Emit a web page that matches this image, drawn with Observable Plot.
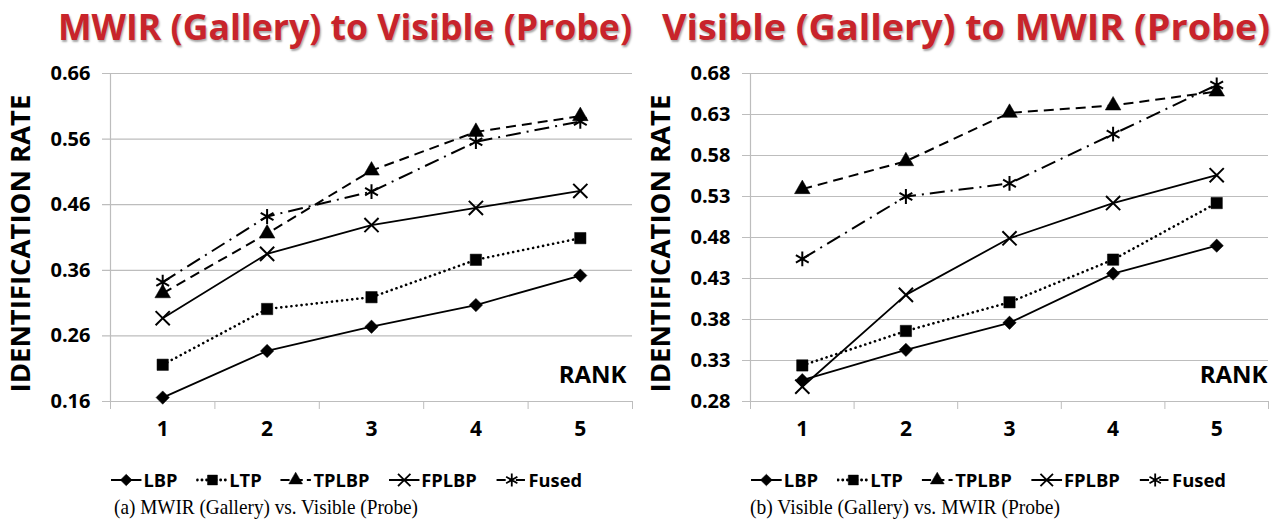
<!DOCTYPE html>
<html><head><meta charset="utf-8">
<script src="https://cdn.jsdelivr.net/npm/d3@7"></script>
<script src="https://cdn.jsdelivr.net/npm/@observablehq/plot@0.6"></script>
<style>
html,body{margin:0;padding:0;background:#fff;}
#root{position:relative;width:1278px;height:522px;overflow:hidden;font-family:"Open Sans",sans-serif;}
.title{position:absolute;top:9px;font-weight:700;font-size:35px;line-height:1;color:#c8242b;white-space:nowrap;text-shadow:1px 2px 2px rgba(0,0,0,0.35);transform-origin:center center;}
.chart{position:absolute;top:58px;}
.legend{position:absolute;top:469px;display:flex;align-items:center;gap:18px;font-weight:700;font-size:18px;line-height:22px;white-space:nowrap;transform-origin:left center;}
.legend .item{display:flex;align-items:center;gap:1px;}
.caption{position:absolute;top:496px;font-family:"Liberation Serif",serif;font-size:22px;line-height:22px;white-space:nowrap;transform-origin:left center;}
</style></head>
<body><div id="root"></div>
<script>
// ---- data ----
const ranks = [1, 2, 3, 4, 5];
const methods = ["LBP", "LTP", "TPLBP", "FPLBP", "Fused"];

// (a) MWIR (Gallery) to Visible (Probe)
const aLBP   = [0.166, 0.237, 0.274, 0.307, 0.352];
const aLTP   = [0.216, 0.301, 0.319, 0.376, 0.409];
const aTPLBP = [0.325, 0.416, 0.512, 0.571, 0.595];
const aFPLBP = [0.287, 0.385, 0.429, 0.455, 0.481];
const aFused = [0.342, 0.442, 0.480, 0.556, 0.587];
const aTicks = [0.16, 0.26, 0.36, 0.46, 0.56, 0.66];

// (b) Visible (Gallery) to MWIR (Probe)
const bLBP   = [0.306, 0.343, 0.376, 0.436, 0.470];
const bLTP   = [0.324, 0.366, 0.401, 0.453, 0.522];
const bTPLBP = [0.539, 0.573, 0.632, 0.641, 0.658];
const bFPLBP = [0.298, 0.410, 0.479, 0.522, 0.556];
const bFused = [0.454, 0.530, 0.546, 0.606, 0.666];
const bTicks = [0.28, 0.33, 0.38, 0.43, 0.48, 0.53, 0.58, 0.63, 0.68];

const titleA = "MWIR (Gallery) to Visible (Probe)";
const titleB = "Visible (Gallery) to MWIR (Probe)";
const captionA = "(a) MWIR (Gallery) vs. Visible (Probe)";
const captionB = "(b) Visible (Gallery) vs. MWIR (Probe)";
const yLabel = "IDENTIFICATION RATE";
const xLabel = "RANK";

// ---- styles ----
const dashOf = {LBP: null, LTP: "0.1,5", TPLBP: "10,6", FPLBP: null, Fused: "15,6,2,6"};
const widthOf = {LBP: 1.8, LTP: 2.6, TPLBP: 2, FPLBP: 1.8, Fused: 2};
const symOf = {LBP: "diamond2", LTP: "square", TPLBP: "triangle", FPLBP: "times", Fused: "asterisk"};
const rOf = {LBP: 6, LTP: 6.4, TPLBP: 5.8, FPLBP: 6.5, Fused: 7};
const d3Sym = {LBP: d3.symbolDiamond2, LTP: d3.symbolSquare, TPLBP: d3.symbolTriangle, FPLBP: d3.symbolTimes, Fused: d3.symbolAsterisk};
const grid = "#bdbdbd";

const root = document.getElementById("root");

function chart(series, yTicks, mLeft, mRight, rankDx) {
  const rows = methods.flatMap((m, j) => ranks.map((r, i) => ({method: m, rank: r, value: series[j][i]})));
  const bounds = [...ranks.map(r => r - 0.5), ranks[ranks.length - 1] + 0.5];
  const marks = [
    Plot.ruleY(yTicks, {y: d => d, stroke: grid, strokeWidth: 1.2, insetLeft: -8}),
    Plot.ruleX([bounds[0]], {x: d => d, stroke: grid, strokeWidth: 1.2}),
    Plot.axisX({ticks: bounds, tickSize: 8, tickFormat: () => "", stroke: grid, label: null}),
    Plot.text(yTicks, {y: d => d, frameAnchor: "left", textAnchor: "end", dx: -20, text: d => d.toFixed(2), fontSize: 20, fontWeight: "bold", fill: "black"}),
    Plot.text(ranks, {x: d => d, frameAnchor: "bottom", dy: 34, text: d => String(d), fontSize: 21, fontWeight: "bold", fill: "black"}),
    Plot.text([xLabel], {frameAnchor: "bottom-right", textAnchor: "end", dx: rankDx, dy: -18.5, fontSize: 24, fontWeight: "bold", fill: "black"}),
    Plot.text([yLabel], {frameAnchor: "left", textAnchor: "middle", rotate: -90, dx: -89, dy: 6, fontSize: 27.5, fontWeight: "bold", fill: "black"})
  ];
  for (const m of methods) {
    const data = rows.filter(d => d.method === m);
    marks.push(Plot.line(data, {x: "rank", y: "value", stroke: "black", strokeWidth: widthOf[m],
      strokeDasharray: dashOf[m], strokeLinecap: m === "LTP" ? "round" : "butt"}));
    const filled = m === "LBP" || m === "LTP" || m === "TPLBP";
    marks.push(Plot.dot(data, {x: "rank", y: "value", symbol: symOf[m], r: rOf[m],
      fill: filled ? "black" : "none", stroke: "black", strokeWidth: filled ? 0.5 : 2}));
  }
  return Plot.plot({
    width: 639, height: 393,
    marginTop: 15, marginBottom: 50, marginLeft: mLeft, marginRight: mRight,
    x: {domain: [bounds[0], bounds[bounds.length - 1]], axis: null, label: null},
    y: {domain: [yTicks[0], yTicks[yTicks.length - 1]], axis: null, label: null},
    style: {fontFamily: "'Open Sans', sans-serif", background: "white", overflow: "visible"},
    marks
  });
}

function addFitted(cls, text, left, target, center) {
  const el = document.createElement("div");
  el.className = cls;
  el.textContent = text;
  el.style.left = left + "px";
  root.appendChild(el);
  const w = el.getBoundingClientRect().width;
  const k = target / w;
  el.style.transform = center ? `translateX(-50%) scaleX(${k})` : `scaleX(${k})`;
  return el;
}

function legend(left, target) {
  const el = document.createElement("div");
  el.className = "legend";
  el.style.left = left + "px";
  for (const m of methods) {
    const item = document.createElement("span");
    item.className = "item";
    const svg = d3.create("svg").attr("width", 32).attr("height", 16);
    svg.append("line").attr("x1", 1).attr("x2", 31).attr("y1", 8).attr("y2", 8)
      .attr("stroke", "black").attr("stroke-width", m === "LTP" ? 2.8 : 2.2)
      .attr("stroke-dasharray", dashOf[m] ? (m === "LTP" ? "0.1,4.5" : m === "Fused" ? "9,4,2,4" : "9,4") : null)
      .attr("stroke-linecap", m === "LTP" ? "round" : "butt");
    const filled = m === "LBP" || m === "LTP" || m === "TPLBP";
    const size = Math.PI * rOf[m] * rOf[m] * 0.75;
    svg.append("path").attr("transform", "translate(16,8)")
      .attr("d", d3.symbol(d3Sym[m], size)())
      .attr("fill", filled ? "black" : "none").attr("stroke", "black").attr("stroke-width", filled ? 0.5 : 1.8);
    item.appendChild(svg.node());
    const t = document.createElement("span");
    t.textContent = m;
    item.appendChild(t);
    el.appendChild(item);
  }
  root.appendChild(el);
  const w = el.getBoundingClientRect().width;
  el.style.transform = `scaleX(${target / w})`;
}

// panel (a)
const cA = chart([aLBP, aLTP, aTPLBP, aFPLBP, aFused], aTicks, 110, 7, -6);
cA.classList.add("chart"); cA.style.left = "0px"; root.appendChild(cA);
// panel (b)
const cB = chart([bLBP, bLTP, bTPLBP, bFPLBP, bFused], bTicks, 111, 10, -1);
cB.classList.add("chart"); cB.style.left = "639px"; root.appendChild(cB);

addFitted("title", titleA, 345, 574, true);
addFitted("title", titleB, 966, 608, true);
legend(110, 472);
legend(750, 476);
addFitted("caption", captionA, 114, 304, false);
addFitted("caption", captionB, 750, 310, false);
</script>
</body></html>
